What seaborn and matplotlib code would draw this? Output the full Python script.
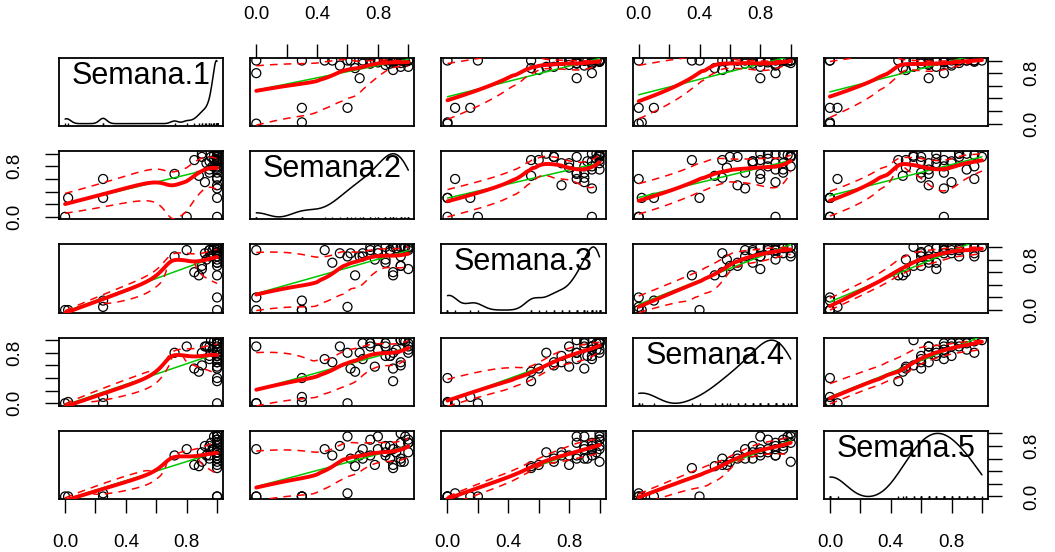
import numpy as np
import pandas as pd
import matplotlib
matplotlib.use("Agg")
import matplotlib.pyplot as plt
import seaborn as sns

# ---------------- data (read / estimated from the reference) ----------------
variables = ["Semana.1", "Semana.2", "Semana.3", "Semana.4", "Semana.5"]
semana1 = [0.00, 0.02, 0.25, 0.25, 1.00, 0.72, 1.00, 0.80, 0.85, 0.88,
           0.90, 0.92, 0.95, 0.97, 1.00, 1.00, 1.00, 1.00, 1.00, 1.00,
           1.00, 1.00, 0.98, 0.95, 1.00, 1.00, 0.93, 1.00, 1.00, 0.96,
           1.00, 1.00, 0.90, 1.00, 1.00, 0.98, 1.00, 0.95, 1.00, 1.00]
semana2 = [0.00, 0.30, 0.30, 0.60, 0.30, 0.68, 0.00, 0.00, 0.90, 0.65,
           0.95, 0.55, 0.70, 0.80, 0.85, 0.75, 0.50, 0.95, 1.00, 0.60,
           0.90, 0.70, 0.98, 0.88, 0.78, 0.92, 0.85, 0.62, 1.00, 0.95,
           0.45, 0.97, 1.00, 0.85, 0.95, 0.90, 0.80, 0.75, 1.00, 0.88]
semana3 = [0.00, 0.00, 0.15, 0.05, 0.00, 0.85, 0.20, 0.95, 0.60, 0.55,
           0.70, 0.90, 0.85, 0.95, 0.75, 1.00, 0.75, 1.00, 0.95, 0.85,
           0.55, 0.90, 1.00, 0.95, 0.80, 0.98, 0.80, 0.90, 1.00, 0.85,
           0.95, 1.00, 0.65, 1.00, 0.70, 1.00, 0.90, 0.95, 0.98, 0.92]
semana4 = [0.00, 0.02, 0.10, 0.00, 0.40, 0.80, 0.00, 0.90, 0.55, 0.50,
           0.60, 0.90, 0.70, 0.85, 0.75, 0.95, 0.65, 1.00, 0.90, 0.80,
           0.35, 0.95, 0.98, 0.75, 0.58, 0.85, 0.90, 0.55, 0.85, 1.00,
           0.70, 1.00, 0.80, 0.95, 0.65, 0.80, 1.00, 0.90, 0.95, 0.75]
semana5 = [0.00, 0.00, 0.00, 0.05, 0.00, 0.65, 0.00, 0.75, 0.50, 0.48,
           0.55, 0.80, 0.60, 0.75, 0.70, 0.90, 0.65, 1.00, 0.85, 0.95,
           0.45, 0.75, 0.95, 0.80, 0.50, 0.70, 0.65, 0.60, 0.90, 0.85,
           0.75, 0.55, 0.70, 0.80, 0.60, 0.75, 0.95, 0.65, 0.85, 0.60]
kde_bw = [0.025, 0.10, 0.05, 0.11, 0.10]

df = pd.DataFrame(dict(zip(variables, [semana1, semana2, semana3, semana4, semana5])))

# ---------------- helpers ----------------
def smooth(x, y, grid, span=0.5, min_bw=0.1):
    """local-linear smoother, gaussian kernel with nearest-neighbour bandwidth"""
    x = np.asarray(x, float); y = np.asarray(y, float)
    k = max(2, int(np.floor(span * len(x))))
    out = []
    for x0 in grid:
        d = np.abs(x - x0)
        bw = max(0.5 * np.sort(d)[k - 1], min_bw)
        w = np.exp(-0.5 * (d / bw) ** 2) + 1e-12
        sw = w.sum()
        xm = (w * x).sum() / sw
        ym = (w * y).sum() / sw
        vx = (w * (x - xm) ** 2).sum()
        if vx < 1e-6 * sw:
            out.append(ym)
        else:
            b = (w * (x - xm) * (y - ym)).sum() / vx
            out.append(ym + b * (x0 - xm))
    return np.array(out)


def kde(x, grid, bw):
    x = np.asarray(x, float)
    z = (grid[:, None] - x[None, :]) / bw
    return np.exp(-0.5 * z ** 2).sum(axis=1) / (len(x) * bw * np.sqrt(2 * np.pi))


# ---------------- style ----------------
sns.set_style("white")
plt.rcParams["font.family"] = ["Liberation Sans", "DejaVu Sans"]

GREEN = "#00c800"
RED = "#ff0000"

fig, axes = plt.subplots(5, 5, figsize=(10.55, 5.52), dpi=100)
fig.subplots_adjust(left=59 / 1055, right=988 / 1055, top=1 - 58 / 552,
                    bottom=1 - 499 / 552, wspace=27 / 164, hspace=25 / 68)

ticks = [0.0, 0.2, 0.4, 0.6, 0.8, 1.0]
xlabels = ["0.0", "", "0.4", "", "0.8", ""]
ylabels = ["0.0", "", "", "", "0.8", ""]

for i, yv in enumerate(variables):
    for j, xv in enumerate(variables):
        ax = axes[i, j]
        xs = df[xv].values
        if i == j:
            grid = np.linspace(xs.min(), xs.max(), 200)
            dens = kde(xs, grid, kde_bw[i])
            dens = (dens - dens.min()) / (dens.max() - dens.min())
            sns.lineplot(x=grid, y=dens, ax=ax, color="black", lw=1.1,
                         estimator=None, sort=False)
            sns.rugplot(x=xs, ax=ax, color="black", height=0.04, lw=1.0)
            ax.text(0.5, 0.62, yv, transform=ax.transAxes, ha="center",
                    va="baseline", fontsize=22, color="black")
        else:
            ys = df[yv].values
            sns.scatterplot(x=xs, y=ys, ax=ax, marker="o", s=42,
                            facecolor="none", edgecolor="black",
                            linewidth=0.9, legend=False, zorder=3)
            sns.regplot(x=xs, y=ys, ax=ax, scatter=False, ci=None,
                        color=GREEN, line_kws=dict(lw=1.1, zorder=4))
            grid = np.linspace(xs.min(), xs.max(), 120)
            fit = smooth(xs, ys, grid)
            res = ys - smooth(xs, ys, xs)
            pos = res > 0
            neg = res < 0
            up = fit + np.sqrt(np.clip(smooth(xs[pos], res[pos] ** 2, grid), 0, None))
            lo = fit - np.sqrt(np.clip(smooth(xs[neg], res[neg] ** 2, grid), 0, None))
            sns.lineplot(x=grid, y=fit, ax=ax, color=RED, lw=2.8,
                         estimator=None, sort=False, zorder=5)
            for band in (up, lo):
                sns.lineplot(x=grid, y=band, ax=ax, color=RED, lw=1.1,
                             estimator=None, sort=False, zorder=5,
                             linestyle=(0, (5, 4)))
        ax.set_xlim(-0.04, 1.04)
        ax.set_ylim(-0.04, 1.04)
        ax.set_xlabel("")
        ax.set_ylabel("")
        for s in ax.spines.values():
            s.set_visible(True)
            s.set_color("black")
            s.set_linewidth(1.3)
        ax.tick_params(axis="both", which="both", bottom=False, top=False,
                       left=False, right=False, labelbottom=False,
                       labeltop=False, labelleft=False, labelright=False,
                       direction="out", length=10, width=1.0, pad=15.5,
                       labelsize=13.5, colors="black")
        ax.set_xticks(ticks)
        ax.set_yticks(ticks)
        ax.set_xticklabels(xlabels)
        ax.set_yticklabels(ylabels, rotation=90, va="center")
        if i == 4 and j in (0, 2, 4):
            ax.tick_params(axis="x", bottom=True, labelbottom=True)
        if i == 0 and j in (1, 3):
            ax.tick_params(axis="x", top=True, labeltop=True)
        if j == 0 and i in (1, 3):
            ax.tick_params(axis="y", left=True, labelleft=True)
        if j == 4 and i in (0, 2, 4):
            ax.tick_params(axis="y", right=True, labelright=True)

fig.savefig("out.png", dpi=100, facecolor="white")
